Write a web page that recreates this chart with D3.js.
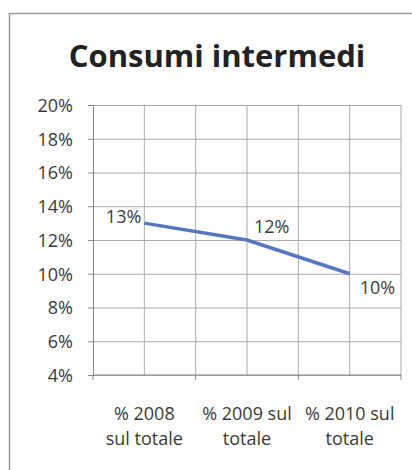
<!DOCTYPE html>
<html>
<head>
<meta charset="utf-8">
<script src="https://cdn.jsdelivr.net/npm/d3@7"></script>
<style>
  body { margin: 0; background: #fff; }
  svg { display: block; }
  text { font-family: "Open Sans", "Noto Sans", sans-serif; fill: #3a3a3a; }
  .axis path, .axis line { stroke: #888; }
  .grid line { stroke: #aaa; stroke-width: 1; }
  .grid path { display: none; }
</style>
</head>
<body>
<svg width="412" height="470"></svg>
<script>
var categories = ["% 2008 sul totale", "% 2009 sul totale", "% 2010 sul totale"];
var catLines = [["% 2008", "sul totale"], ["% 2009 sul", "totale"], ["% 2010 sul", "totale"]];
var values = [13, 12, 10];
var labels = ["13%", "12%", "10%"];
var yTicks = [4, 6, 8, 10, 12, 14, 16, 18, 20];

var svg = d3.select("svg"),
    margin = { top: 105, right: 11, bottom: 95, left: 93 },
    width = +svg.attr("width") - margin.left - margin.right,
    height = +svg.attr("height") - margin.top - margin.bottom;

// outer frame, cut off at right and bottom like the scan
svg.append("rect")
    .attr("x", 9.5).attr("y", 13.5)
    .attr("width", 420).attr("height", 480)
    .attr("fill", "none")
    .attr("stroke", "#999")
    .attr("stroke-width", 1.5);

svg.append("text")
    .attr("x", 217)
    .attr("y", 67)
    .attr("text-anchor", "middle")
    .style("font-size", "31px")
    .style("font-weight", "bold")
    .style("fill", "#222")
    .text("Consumi intermedi");

var x = d3.scaleBand().domain(categories).range([0, width]);
var y = d3.scaleLinear().domain([4, 20]).range([height, 0]);

var g = svg.append("g")
    .attr("transform", "translate(" + margin.left + "," + margin.top + ")");

// horizontal gridlines
g.append("g")
    .attr("class", "grid")
    .call(d3.axisLeft(y).tickValues(yTicks).tickSize(-width).tickFormat(""));

// vertical gridlines: band edges and band centres
var vx = [];
categories.forEach(function (c) {
    vx.push(x(c) + x.bandwidth() / 2);
    vx.push(x(c) + x.bandwidth());
});
g.append("g").attr("class", "grid")
    .selectAll("line")
    .data(vx)
    .enter().append("line")
    .attr("x1", function (d) { return d; })
    .attr("x2", function (d) { return d; })
    .attr("y1", 0)
    .attr("y2", height);

g.append("g")
    .attr("class", "axis")
    .call(d3.axisLeft(y).tickValues(yTicks).tickSize(5)
        .tickFormat(function (d) { return d + "%"; }))
    .call(function (a) {
        a.selectAll("text").style("font-size", "18px").attr("x", -20).attr("dy", "0.35em");
    });

var xAxis = g.append("g")
    .attr("class", "axis")
    .attr("transform", "translate(0," + height + ")");
xAxis.append("line").attr("x1", 0).attr("x2", width).attr("stroke", "#888");
xAxis.selectAll(".tk")
    .data([0].concat(categories.map(function (c) { return x(c) + x.bandwidth(); })))
    .enter().append("line")
    .attr("x1", function (d) { return d; })
    .attr("x2", function (d) { return d; })
    .attr("y1", 0).attr("y2", 5)
    .attr("stroke", "#888");

xAxis.selectAll(".xl")
    .data(categories)
    .enter().append("text")
    .attr("text-anchor", "middle")
    .attr("x", function (d) { return x(d) + x.bandwidth() / 2; })
    .attr("y", 45)
    .style("font-size", "18px")
    .each(function (d, i) {
        var t = d3.select(this);
        catLines[i].forEach(function (s, j) {
            t.append("tspan")
                .attr("x", x(d) + x.bandwidth() / 2)
                .attr("dy", j === 0 ? 0 : 25)
                .text(s);
        });
    });

var line = d3.line()
    .x(function (d, i) { return x(categories[i]) + x.bandwidth() / 2; })
    .y(function (d) { return y(d); });

g.append("path")
    .datum(values)
    .attr("fill", "none")
    .attr("stroke", "#5577c0")
    .attr("stroke-width", 3.5)
    .attr("d", line);

var lblOff = [[-3, 0, "end"], [7, -7, "start"], [10, 20, "start"]];
g.selectAll(".lbl")
    .data(values)
    .enter().append("text")
    .attr("x", function (d, i) { return x(categories[i]) + x.bandwidth() / 2 + lblOff[i][0]; })
    .attr("y", function (d, i) { return y(d) + lblOff[i][1]; })
    .attr("text-anchor", function (d, i) { return lblOff[i][2]; })
    .style("font-size", "18px")
    .text(function (d, i) { return labels[i]; });
</script>
</body>
</html>
